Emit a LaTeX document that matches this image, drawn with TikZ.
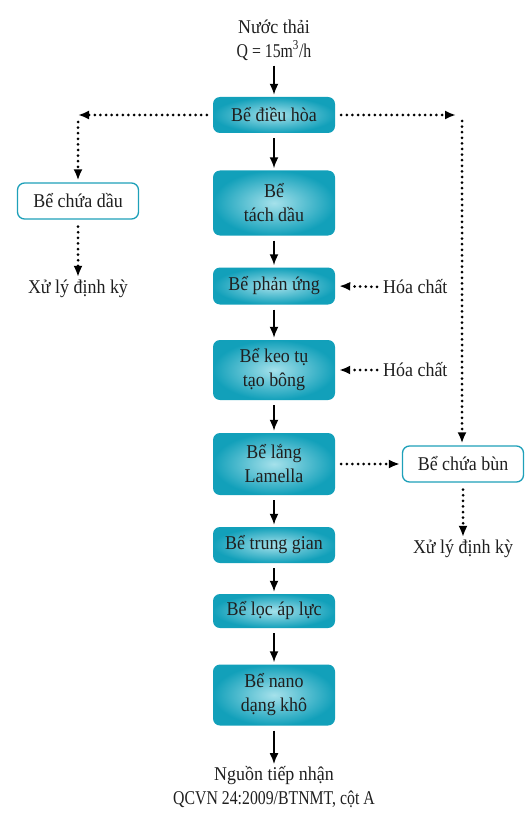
\documentclass[tikz,border=0pt]{standalone}
\usepackage{fontspec}
\setmainfont{Liberation Serif}[FakeStretch=0.92]
\newfontfamily\narrowfont{Liberation Serif}[FakeStretch=0.81]
\usetikzlibrary{arrows.meta,positioning}
\definecolor{tealout}{RGB}{18,160,186}
\definecolor{tealin}{RGB}{165,225,235}
\definecolor{tealline}{RGB}{30,160,185}
\begin{document}
\begin{tikzpicture}[x=1pt,y=-1pt,
  every node/.style={font=\fontsize{19.5}{24}\selectfont, align=center, inner sep=0pt, text=black!88},
  mainbox/.style={rounded corners=7pt, minimum width=122pt, inner color=tealin, outer color=tealout, draw=none},
  sidebox/.style={rounded corners=7pt, minimum width=121pt, minimum height=36pt, draw=tealline, line width=1.3pt, fill=white},
  solidarrow/.style={line width=1.8pt, -{Latex[length=11pt,width=9pt]}, shorten <=5pt, shorten >=2pt},
  dotarrow/.style={line width=3pt, line cap=round, dash pattern=on 0pt off 5.6pt, -{Latex[length=11pt,width=9pt]}},
  plaintext/.style={}]
\useasboundingbox (0,0) rectangle (530,837);

\node[plaintext] (in) at (274,40) {Nước thải\\{\narrowfont Q = 15m\textsuperscript{3}/h}};
\node[mainbox, minimum height=36pt] (b1) at (274,115) {Bể điều hòa};
\node[mainbox, minimum height=65pt] (b2) at (274,203) {Bể\\tách dầu};
\node[mainbox, minimum height=37pt] (b3) at (274,286) {Bể phản ứng};
\node[mainbox, minimum height=60pt] (b4) at (274,370) {Bể keo tụ\\tạo bông};
\node[mainbox, minimum height=62pt] (b5) at (274,464) {Bể lắng\\Lamella};
\node[mainbox, minimum height=36pt] (b6) at (274,545) {Bể trung gian};
\node[mainbox, minimum height=34pt] (b7) at (274,611) {Bể lọc áp lực};
\node[mainbox, minimum height=61pt] (b8) at (274,695) {Bể nano\\dạng khô};
\node[plaintext] (out) at (274,787) {Nguồn tiếp nhận\\{\narrowfont QCVN 24:2009/BTNMT, cột A}};

\draw[solidarrow] (in) -- (b1);
\draw[solidarrow] (b1) -- (b2);
\draw[solidarrow] (b2) -- (b3);
\draw[solidarrow] (b3) -- (b4);
\draw[solidarrow] (b4) -- (b5);
\draw[solidarrow] (b5) -- (b6);
\draw[solidarrow] (b6) -- (b7);
\draw[solidarrow] (b7) -- (b8);
\draw[solidarrow] (b8) -- (out);

% left branch
\coordinate (cL) at (78,115);
\node[sidebox] (oil) at (78,201) {Bể chứa dầu};
\node[plaintext] (x1) at (78,289) {Xử lý định kỳ};
\draw[dotarrow, shorten <=6pt] (b1.west) -- (cL);
\draw[dotarrow, shorten <=7pt, shorten >=2pt] (cL) -- (oil.north);
\draw[dotarrow, shorten <=7pt, shorten >=3pt] (oil.south) -- (x1.north);

% right branch
\coordinate (cR) at (462,115);
\node[sidebox] (mud) at (463,464) {Bể chứa bùn};
\node[plaintext] (x2) at (463,549) {Xử lý định kỳ};
\draw[dotarrow, shorten <=6pt, shorten >=6pt] (b1.east) -- (cR);
\draw[dotarrow, shorten <=6pt, shorten >=2pt] (cR) -- (cR |- mud.north);
\draw[dotarrow, shorten <=6pt, shorten >=2pt] (b5.east) -- (mud.west);
\draw[dotarrow, shorten <=7pt, shorten >=3pt] (mud.south) -- (x2.north);

% chemicals
\node[plaintext, anchor=west] (h1) at (383,287) {Hóa chất};
\node[plaintext, anchor=west] (h2) at (383,370) {Hóa chất};
\draw[dotarrow, shorten <=6pt, shorten >=4pt] (h1.west) -- (b3.east);
\draw[dotarrow, shorten <=6pt, shorten >=4pt] (h2.west) -- (b4.east);
\end{tikzpicture}
\end{document}
